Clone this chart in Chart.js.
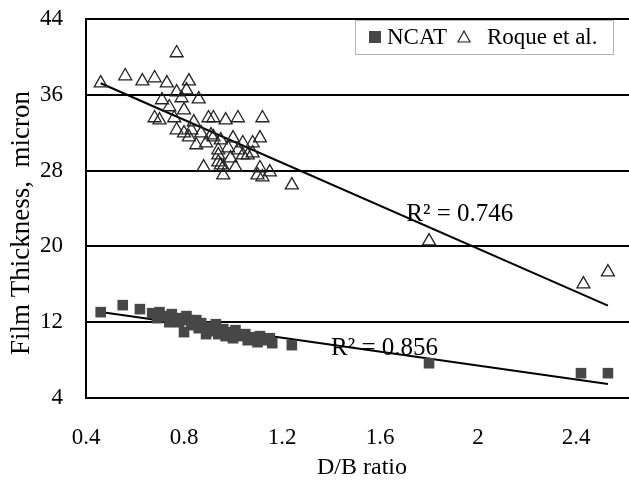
<!DOCTYPE html>
<html>
<head>
<meta charset="utf-8">
<script src="https://cdn.jsdelivr.net/npm/chart.js@4.4.1/dist/chart.umd.min.js"></script>
<style>
html, body { margin: 0; padding: 0; background: #fff; }
#wrap { width: 629px; height: 490px; }
</style>
</head>
<body>
<div id="wrap"><canvas id="dataChart"></canvas></div>
<script>
// D/B ratio vs film thickness
const ncatX = [0.46, 0.55, 0.62, 0.67, 0.69, 0.70, 0.72, 0.74, 0.75, 0.77, 0.78, 0.80, 0.81, 0.82, 0.83,
    0.85, 0.86, 0.87, 0.89, 0.90, 0.92, 0.93, 0.94, 0.96, 0.97, 0.99, 1.00, 1.01, 1.03, 1.05,
    1.06, 1.08, 1.10, 1.11, 1.13, 1.15, 1.16, 1.24, 1.80, 2.42, 2.53];
const ncatY = [13.06, 13.80, 13.38, 12.95, 12.43, 13.06, 12.64, 12.00, 12.85, 12.43, 12.00, 10.95, 12.64, 12.22, 11.69,
    12.22, 11.37, 11.90, 10.74, 11.48, 11.05, 11.79, 10.74, 11.27, 10.53, 10.95, 10.31, 11.16, 10.53, 10.74,
    10.10, 10.42, 9.89, 10.53, 10.10, 10.31, 9.79, 9.58, 7.67, 6.62, 6.62];

const roqueX = [0.46, 0.77, 0.56, 0.63, 0.68, 0.73, 0.82, 0.81, 0.77, 0.86, 0.71, 0.79, 0.74, 0.80, 0.68,
    0.70, 0.76, 0.84, 0.90, 0.92, 0.97, 1.02, 1.12, 0.77, 0.80, 0.83, 0.87, 0.92, 0.85, 0.89,
    0.95, 1.00, 1.04, 1.08, 1.11, 0.98, 0.94, 1.02, 0.94, 0.99, 1.04, 1.08, 0.94, 0.88, 0.96,
    1.01, 1.11, 1.15, 1.10, 0.96, 1.24, 1.12, 0.91, 0.82, 1.80, 2.43, 2.53, 0.95, 1.06];
const roqueY = [37.24, 40.41, 37.98, 37.45, 37.77, 37.24, 37.45, 36.50, 36.29, 35.55, 35.45, 35.66, 34.71, 34.39, 33.55,
    33.33, 33.55, 33.12, 33.55, 33.55, 33.33, 33.55, 33.55, 32.28, 31.96, 32.28, 31.96, 31.54, 30.70, 30.91,
    31.22, 31.43, 30.91, 30.91, 31.43, 30.38, 30.17, 30.17, 29.64, 29.32, 29.64, 29.85, 28.90, 28.37, 28.37,
    28.37, 28.27, 27.84, 27.53, 27.53, 26.47, 27.32, 31.75, 31.54, 20.56, 16.02, 17.28, 28.58, 29.64];

const xTicks = [0.4, 0.8, 1.2, 1.6, 2, 2.4];
const yTicks = [4, 12, 20, 28, 36, 44];
const seriesNames = ['NCAT', 'Roque et al.'];
const r2Labels = ['R\u00b2 = 0.856', 'R\u00b2 = 0.746'];
const xTitle = 'D/B ratio';
const yTitle = 'Film Thickness,  micron';

const FONT = "'Liberation Serif', 'Times New Roman', serif";

function toPoints(xs, ys) {
    return xs.map((x, i) => ({ x: x, y: ys[i] }));
}

// least squares trend line over the data range
function trend(xs, ys) {
    const n = xs.length;
    const mx = xs.reduce((a, b) => a + b, 0) / n;
    const my = ys.reduce((a, b) => a + b, 0) / n;
    let sxy = 0, sxx = 0;
    for (let i = 0; i < n; i++) {
        sxy += (xs[i] - mx) * (ys[i] - my);
        sxx += (xs[i] - mx) * (xs[i] - mx);
    }
    const b = sxy / sxx;
    const a = my - b * mx;
    const x0 = Math.min(...xs), x1 = Math.max(...xs);
    return [{ x: x0, y: a + b * x0 }, { x: x1, y: a + b * x1 }];
}

const overlay = {
    id: 'overlay',
    afterDatasetsDraw(chart) {
        const ctx = chart.ctx;
        const xs = chart.scales.x, ys = chart.scales.y;
        ctx.save();
        ctx.fillStyle = '#000';
        ctx.font = '25px ' + FONT;
        ctx.textBaseline = 'middle';
        ctx.textAlign = 'left';
        ctx.fillText(r2Labels[0], xs.getPixelForValue(1.4), ys.getPixelForValue(9.2));
        ctx.fillText(r2Labels[1], xs.getPixelForValue(1.707), ys.getPixelForValue(23.4));

        // axis titles
        ctx.textAlign = 'center';
        ctx.font = '24px ' + FONT;
        ctx.fillText(xTitle, 362, 468);
        ctx.save();
        ctx.translate(22, 223);
        ctx.rotate(-Math.PI / 2);
        ctx.font = '27px ' + FONT;
        ctx.fillText(yTitle, 0, 0);
        ctx.restore();

        // legend box
        ctx.textAlign = 'left';
        ctx.setLineDash([1, 1]);
        ctx.strokeStyle = '#666';
        ctx.lineWidth = 1;
        ctx.strokeRect(355.5, 20.5, 258, 34);
        ctx.setLineDash([]);
        ctx.fillStyle = '#474747';
        ctx.fillRect(369, 31, 12, 12);
        ctx.beginPath();
        ctx.moveTo(464, 31);
        ctx.lineTo(470, 42);
        ctx.lineTo(458, 42);
        ctx.closePath();
        ctx.strokeStyle = '#222';
        ctx.lineWidth = 1.2;
        ctx.stroke();
        ctx.fillStyle = '#000';
        ctx.font = '23px ' + FONT;
        ctx.fillText(seriesNames[0], 387, 38);
        ctx.fillText(seriesNames[1], 487, 38);
        ctx.restore();
    }
};

const ctx = document.getElementById('dataChart').getContext('2d');
new Chart(ctx, {
    type: 'scatter',
    data: {
        datasets: [
            {
                label: seriesNames[0],
                data: toPoints(ncatX, ncatY),
                pointStyle: 'rect',
                pointRadius: 7.5,
                backgroundColor: '#474747',
                borderColor: '#474747',
                borderWidth: 0
            },
            {
                label: seriesNames[1],
                data: toPoints(roqueX, roqueY),
                pointStyle: 'triangle',
                pointRadius: 7.5,
                backgroundColor: 'rgba(0,0,0,0)',
                borderColor: '#222',
                borderWidth: 1.3
            },
            {
                label: 'trend NCAT',
                data: trend(ncatX, ncatY),
                showLine: true,
                pointRadius: 0,
                borderColor: '#000',
                borderWidth: 2
            },
            {
                label: 'trend Roque',
                data: trend(roqueX, roqueY),
                showLine: true,
                pointRadius: 0,
                borderColor: '#000',
                borderWidth: 2
            }
        ]
    },
    options: {
        responsive: true,
        maintainAspectRatio: false,
        animation: false,
        layout: { autoPadding: false, padding: { top: 19, left: 0, right: 0, bottom: 0 } },
        plugins: {
            legend: { display: false },
            tooltip: { enabled: false }
        },
        scales: {
            x: {
                type: 'linear',
                min: 0.4,
                max: 2.616,
                afterBuildTicks: (s) => { s.ticks = xTicks.map(v => ({ value: v })); },
                afterFit: (s) => { s.height = 92; s.paddingLeft = 0; s.paddingRight = 0; },
                grid: { display: false, drawTicks: false },
                border: { display: true, color: '#000', width: 2 },
                ticks: {
                    padding: 26,
                    color: '#000',
                    font: { family: FONT, size: 23 },
                    callback: (v) => String(v)
                }
            },
            y: {
                min: 4,
                max: 44,
                afterBuildTicks: (s) => { s.ticks = yTicks.map(v => ({ value: v })); },
                afterFit: (s) => { s.width = 86; s.paddingTop = 0; s.paddingBottom = 0; },
                grid: { color: '#000', lineWidth: 2, drawTicks: false },
                border: { display: true, color: '#000', width: 2 },
                ticks: {
                    padding: 23,
                    color: '#000',
                    font: { family: FONT, size: 23 }
                }
            }
        }
    },
    plugins: [overlay]
});
</script>
</body>
</html>
